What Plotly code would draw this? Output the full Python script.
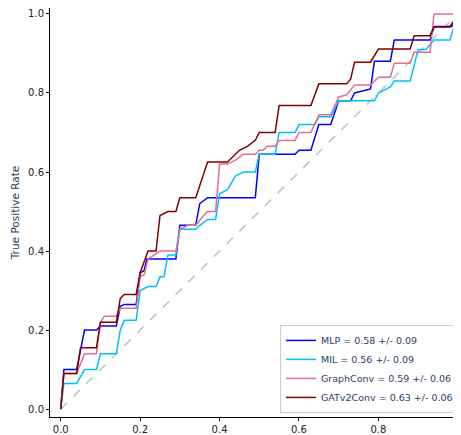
import plotly.graph_objects as go

mlp_x = [0, 0.008, 0.04, 0.06, 0.09, 0.1, 0.14, 0.15, 0.16, 0.19, 0.2, 0.21, 0.217, 0.29, 0.3, 0.34, 0.35, 0.37,
         0.49, 0.5, 0.59, 0.6, 0.63, 0.65, 0.68, 0.7, 0.73, 0.74, 0.78, 0.79, 0.83, 0.84, 0.93, 0.94, 0.985, 1.0]
mlp_y = [0, 0.1, 0.1, 0.2, 0.2, 0.21, 0.21, 0.26, 0.265, 0.265, 0.345, 0.35, 0.38, 0.38, 0.465, 0.465, 0.52, 0.535,
         0.535, 0.645, 0.645, 0.655, 0.655, 0.72, 0.72, 0.78, 0.78, 0.8, 0.81, 0.88, 0.88, 0.934, 0.934, 0.968, 0.968, 1.0]

mil_x = [0, 0.008, 0.04, 0.06, 0.09, 0.1, 0.14, 0.15, 0.16, 0.19, 0.2, 0.22, 0.24, 0.25, 0.26, 0.27, 0.29, 0.3,
         0.34, 0.35, 0.37, 0.39, 0.4, 0.42, 0.44, 0.46, 0.49, 0.5, 0.54, 0.55, 0.59, 0.6, 0.64, 0.65, 0.68, 0.7,
         0.79, 0.8, 0.83, 0.84, 0.88, 0.9, 0.92, 0.94, 0.98, 1.0]
mil_y = [0, 0.065, 0.065, 0.1, 0.1, 0.14, 0.14, 0.2, 0.225, 0.225, 0.3, 0.31, 0.31, 0.335, 0.335, 0.39, 0.39, 0.455,
         0.455, 0.465, 0.48, 0.48, 0.545, 0.555, 0.59, 0.6, 0.6, 0.645, 0.645, 0.7, 0.7, 0.72, 0.72, 0.74, 0.74, 0.78,
         0.78, 0.8, 0.815, 0.83, 0.83, 0.91, 0.91, 0.934, 0.934, 1.0]

gc_x = [0, 0.008, 0.04, 0.06, 0.09, 0.1, 0.11, 0.14, 0.15, 0.19, 0.2, 0.21, 0.22, 0.25, 0.29, 0.3, 0.32, 0.34,
        0.36, 0.37, 0.39, 0.4, 0.42, 0.44, 0.46, 0.49, 0.5, 0.51, 0.52, 0.54, 0.55, 0.59, 0.6, 0.63, 0.65, 0.68,
        0.7, 0.72, 0.74, 0.78, 0.8, 0.83, 0.84, 0.88, 0.89, 0.93, 0.94, 1.0]
gc_y = [0, 0.09, 0.09, 0.14, 0.14, 0.22, 0.235, 0.235, 0.255, 0.255, 0.335, 0.34, 0.38, 0.4, 0.4, 0.455, 0.465, 0.465,
        0.49, 0.5, 0.5, 0.62, 0.62, 0.63, 0.645, 0.645, 0.655, 0.655, 0.665, 0.665, 0.68, 0.68, 0.7, 0.7, 0.745, 0.745,
        0.79, 0.795, 0.82, 0.82, 0.84, 0.84, 0.875, 0.875, 0.903, 0.903, 1.0, 1.0]

gat_x = [0, 0.008, 0.04, 0.05, 0.09, 0.1, 0.14, 0.15, 0.16, 0.19, 0.2, 0.22, 0.24, 0.25, 0.27, 0.29, 0.3, 0.34,
         0.35, 0.37, 0.42, 0.43, 0.45, 0.47, 0.49, 0.5, 0.54, 0.55, 0.63, 0.65, 0.72, 0.73, 0.74, 0.78, 0.8, 0.88,
         0.89, 0.93, 0.94, 0.98, 1.0]
gat_y = [0, 0.09, 0.09, 0.155, 0.155, 0.22, 0.22, 0.28, 0.29, 0.29, 0.345, 0.4, 0.4, 0.49, 0.5, 0.5, 0.535, 0.535,
         0.565, 0.625, 0.625, 0.635, 0.655, 0.665, 0.68, 0.7, 0.7, 0.768, 0.768, 0.823, 0.823, 0.835, 0.878, 0.878,
         0.911, 0.911, 0.945, 0.945, 0.967, 0.967, 1.0]

names = ["MLP = 0.58 +/- 0.09", "MIL = 0.56 +/- 0.09", "GraphConv = 0.59 +/- 0.06", "GATv2Conv = 0.63 +/- 0.06"]
colors = ["#0000ff", "#00bfff", "#e07090", "#800000"]
curves = [(mlp_x, mlp_y), (mil_x, mil_y), (gc_x, gc_y), (gat_x, gat_y)]

fig = go.Figure()
fig.add_trace(go.Scatter(x=[0, 1], y=[0, 1], mode="lines", showlegend=False,
                         line=dict(color="#c0c0c0", width=1.5, dash="dash")))
for (cx, cy), n, c in zip(curves, names, colors):
    fig.add_trace(go.Scatter(x=cx, y=cy, mode="lines", name=n, line=dict(color=c, width=1.5)))

ticks = [0, 0.2, 0.4, 0.6, 0.8, 1.0]
tick_text = ["0.0", "0.2", "0.4", "0.6", "0.8", "1.0"]
axis_style = dict(showgrid=False, zeroline=False, showline=True, linecolor="black", linewidth=1, automargin=False,
                  ticks="outside", ticklen=3, tickcolor="black", tickfont=dict(size=10, color="#222"),
                  tickvals=ticks, ticktext=tick_text)
# page body has an 8px margin, so the figure is 8px smaller than the window
fig.update_layout(
    width=453, height=427, plot_bgcolor="white", paper_bgcolor="white",
    margin=dict(l=42, r=0, t=0, b=18),
    font=dict(family="DejaVu Sans"),
    xaxis=dict(range=[-0.027, 1.008], mirror=True, **axis_style),
    yaxis=dict(range=[-0.02, 1.015],
               title=dict(text="True Positive Rate", font=dict(size=10.5), standoff=6), **axis_style),
    legend=dict(x=0.995, y=0.01, xanchor="right", yanchor="bottom", bordercolor="#ccc", borderwidth=1,
                bgcolor="rgba(255,255,255,0.8)", font=dict(size=9.5), tracegroupgap=0),
)
fig.write_html("out.html")
